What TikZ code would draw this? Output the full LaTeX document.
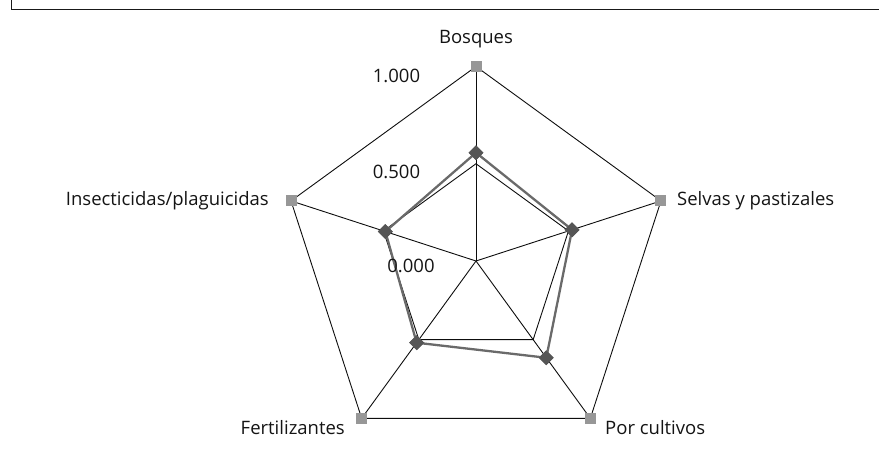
\documentclass[tikz,border=0pt]{standalone}
\usepackage{fontspec}
\setmainfont{Open Sans}
\usetikzlibrary{shapes.geometric, positioning}

\definecolor{sqgray}{HTML}{979797}
\definecolor{diagray}{HTML}{555555}
\definecolor{linegray}{HTML}{6A6A6A}

\begin{document}
\begin{tikzpicture}[x = 1pt, y = 1pt,
	grid/.style = {draw = black!95, line width = 0.9pt},
	serie/.style = {draw = linegray, line width = 2.3pt, line join = round},
	sq/.style = {rectangle, fill = sqgray, minimum size = 11pt, inner sep = 0pt},
	dia/.style = {diamond, fill = diagray, minimum size = 15pt, inner sep = 0pt},
	lbl/.style = {font = \fontsize{18.5}{22}\selectfont, inner sep = 0pt, text = black!92}]

\useasboundingbox (0,0) rectangle (879,450);
\draw[line width = 1.3pt, black!90] (11.7,450) -- (11.7,440.7) -- (879,440.7);

% centre and axes
\coordinate (c) at (476,189);

\coordinate (bosq)	at ([shift={(90:194.5pt)}]c);
\coordinate (selv)	at ([shift={(18:194.5pt)}]c);
\coordinate (cult)	at ([shift={(-54:194.5pt)}]c);
\coordinate (fert)	at ([shift={(234:194.5pt)}]c);
\coordinate (inse)	at ([shift={(162:194.5pt)}]c);

\coordinate (bosq5)	at ([shift={(90:97.25pt)}]c);
\coordinate (selv5)	at ([shift={(18:97.25pt)}]c);
\coordinate (cult5)	at ([shift={(-54:97.25pt)}]c);
\coordinate (fert5)	at ([shift={(234:97.25pt)}]c);
\coordinate (inse5)	at ([shift={(162:97.25pt)}]c);

% grid
\draw[grid] (bosq) -- (selv) -- (cult) -- (fert) -- (inse) -- cycle;
\draw[grid] (bosq5) -- (selv5) -- (cult5) -- (fert5) -- (inse5) -- cycle;
\draw[grid] (c) -- (bosq);
\draw[grid] (c) -- (selv);
\draw[grid] (c) -- (cult);
\draw[grid] (c) -- (fert);
\draw[grid] (c) -- (inse);

% data
\node[dia] (dB) at ([shift={(90:108.3pt)}]c) {};
\node[dia] (dS) at ([shift={(18:101pt)}]c) {};
\node[dia] (dC) at ([shift={(-54:119.6pt)}]c) {};
\node[dia] (dF) at ([shift={(234:101pt)}]c) {};
\node[dia] (dI) at ([shift={(162:95.3pt)}]c) {};

\draw[serie] (dB.center) -- (dS.center) -- (dC.center) -- (dF.center) -- (dI.center) -- cycle;

\node[sq] (sB) at (bosq) {};
\node[sq] (sS) at (selv) {};
\node[sq] (sC) at (cult) {};
\node[sq] (sF) at (fert) {};
\node[sq] (sI) at (inse) {};

\node[dia] at (dB) {};
\node[dia] at (dS) {};
\node[dia] at (dC) {};
\node[dia] at (dF) {};
\node[dia] at (dI) {};

% labels
\node[lbl] (lB) at (476,410.5)				{Bosques};
\node[lbl, anchor = west] (lS) at (677,249)	{Selvas y pastizales};
\node[lbl, anchor = west] (lC) at (605,22)	{Por cultivos};
\node[lbl, anchor = east] (lF) at (345,22)	{Fertilizantes};
\node[lbl, anchor = east] (lI) at (269,249)	{Insecticidas/plaguicidas};

\node[lbl] (v1) at (396.5,374.3)	{1.000};
\node[lbl] (v2) at (396.5,278.3)	{0.500};
\node[lbl] (v0) at (411,184)		{0.000};

\end{tikzpicture}
\end{document}
